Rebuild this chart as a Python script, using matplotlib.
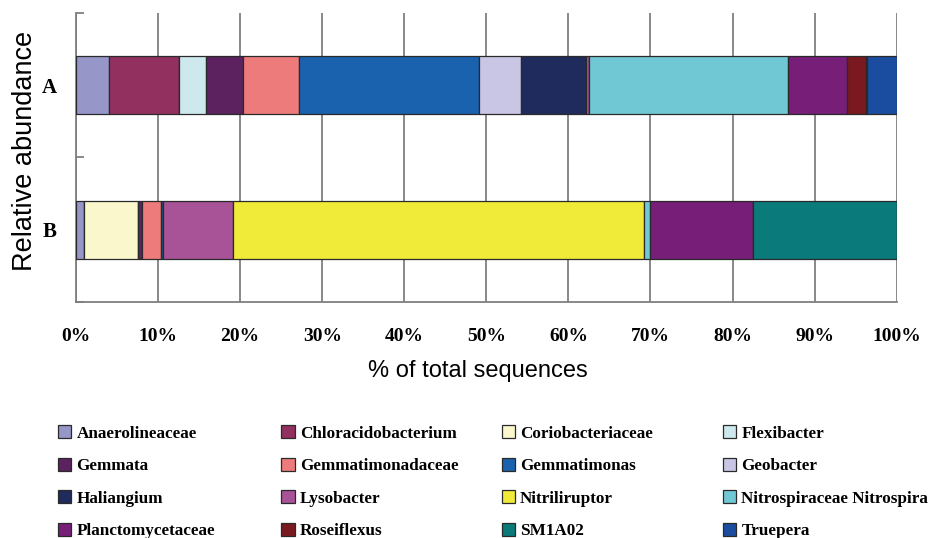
import matplotlib.pyplot as plt
import numpy as np

# relative abundance (%) of each taxon in the two samples
samples = ['B', 'A']
taxa = ['Anaerolineaceae', 'Chloracidobacterium', 'Coriobacteriaceae', 'Flexibacter',
        'Gemmata', 'Gemmatimonadaceae', 'Gemmatimonas', 'Geobacter',
        'Haliangium', 'Lysobacter', 'Nitriliruptor', 'Nitrospiraceae Nitrospira',
        'Planctomycetaceae', 'Roseiflexus', 'SM1A02', 'Truepera']
sample_A = [4.0, 8.6, 0.0, 3.2, 4.5, 6.9, 21.9, 5.1,
            8.0, 0.3, 0.0, 24.2, 7.2, 2.3, 0.2, 3.6]
sample_B = [1.0, 0.0, 6.5, 0.0, 0.6, 2.2, 0.3, 0.0,
            0.0, 8.5, 50.1, 0.8, 12.5, 0.0, 17.5, 0.0]
colors = ['#9696C8', '#923060', '#FAF7CC', '#CDE9EE',
          '#5C2260', '#EE7B7B', '#1A62AE', '#C8C6E4',
          '#1F2B5C', '#A85298', '#F0EA38', '#70C8D4',
          '#761E78', '#7A1A20', '#0A7A7A', '#1A4CA0']
xticks = [0, 10, 20, 30, 40, 50, 60, 70, 80, 90, 100]

serif = ['Liberation Serif', 'DejaVu Serif']
sans = ['Liberation Sans', 'DejaVu Sans']

fig = plt.figure(figsize=(9.3, 5.38), dpi=100)
ax = fig.add_axes([0.0817, 0.4387, 0.8825, 0.5371])

vals = np.array([sample_B, sample_A])
left = np.zeros(len(samples))
ypos = np.arange(len(samples))
handles = []
for i, name in enumerate(taxa):
    b = ax.barh(ypos, vals[:, i], left=left, height=0.4, color=colors[i],
                edgecolor='#2a2a2a', linewidth=0.9, label=name, zorder=3)
    handles.append(b)
    left += vals[:, i]

ax.set_xlim(0, 100)
ax.set_ylim(-0.5, 1.5)
ax.set_xticks(xticks)
ax.set_xticklabels([f'{t}%' for t in xticks], fontfamily=serif,
                   fontweight='bold', fontsize=14)
ax.tick_params(axis='x', length=0, pad=19)
ax.grid(axis='x', color='#7f7f7f', linewidth=1.3, zorder=0)

ax.set_yticks(ypos)
ax.set_yticklabels(samples, fontfamily=serif, fontweight='bold', fontsize=15)
ax.tick_params(axis='y', length=0, pad=14)
ax.set_yticks([-0.5, 0.5, 1.5], minor=True)
ax.tick_params(axis='y', which='minor', direction='in', length=6,
               color='#7f7f7f', width=1.3)

for s in ['top', 'right']:
    ax.spines[s].set_visible(False)
for s in ['left', 'bottom']:
    ax.spines[s].set_color('#7f7f7f')
    ax.spines[s].set_linewidth(1.3)

ax.set_xlabel('% of total sequences', fontfamily=sans, fontsize=17, labelpad=10)
ax.xaxis.set_label_coords(0.49, -0.2)
ax.set_ylabel('Relative abundance', fontfamily=sans, fontsize=19.5)
ax.yaxis.set_label_coords(-0.046, 0.522)

# legend: 4 columns filled row by row, evenly spaced
col_x = [0.055, 0.295, 0.532, 0.770]
for c in range(4):
    idx = list(range(c, len(taxa), 4))
    fig.legend([handles[i] for i in idx], [taxa[i] for i in idx],
               loc='upper left', bbox_to_anchor=(col_x[c], 0.222),
               frameon=False, ncol=1, handlelength=0.78, handleheight=0.78,
               handletextpad=0.3, labelspacing=0.94, borderaxespad=0,
               prop={'family': serif, 'weight': 'bold', 'size': 12.3})

fig.savefig('out.png', dpi=100)
